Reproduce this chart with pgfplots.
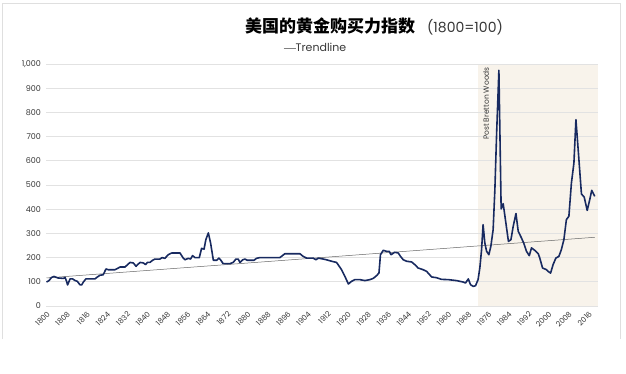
\documentclass[border=0pt]{standalone}
\usepackage{fontspec}
\setmainfont{Poppins}
\newfontfamily\cjk{Noto Sans CJK SC}
\usepackage{pgfplots}
\pgfplotsset{compat=1.18}
\definecolor{navy}{RGB}{24,42,96}
\definecolor{shade}{RGB}{248,243,235}
\definecolor{gridc}{RGB}{226,226,226}
\definecolor{txt}{RGB}{55,55,55}
\begin{document}
\begin{tikzpicture}
\path (0,0) rectangle (626pt,373pt);
\draw[gray!25, line width=0.6pt] (2pt,34pt) -- (2pt,370pt) -- (620pt,370pt) -- (620pt,34pt);
\node[anchor=base, inner sep=0pt] at (374pt,340pt) {{\cjk\bfseries\fontsize{17}{20}\selectfont 美国的黄金购买力指数}\hspace{12pt}{\fontsize{14}{16}\selectfont\color{txt}(1800=100)}};
\node[anchor=base, inner sep=0pt, text=txt] at (315pt,321pt) {\fontsize{11}{13}\selectfont{\color{gray}\rule[3pt]{12pt}{0.6pt}}Trendline};
\begin{axis}[
  at={(46.5pt,67pt)}, anchor=south west,
  scale only axis, width=551.5pt, height=242pt,
  xmin=1800, xmax=2019.8, ymin=0, ymax=1000,
  axis line style={draw=none}, tick style={draw=none},
  ymajorgrids, grid style={gridc, line width=0.8pt},
  ytick={0,100,...,1000},
  xtick={1800,1808,...,2016},
  /pgf/number format/assume math mode=true,
  y tick label style={font=\fontsize{8}{9}\selectfont, text=txt, /pgf/number format/1000 sep={,}, xshift=-2pt},
  x tick label style={font=\fontsize{7.5}{8}\selectfont, text=txt, rotate=45, anchor=north east, /pgf/number format/1000 sep={}},
  clip=false,
]
\addplot[fill=shade, draw=none] coordinates {(1972,0) (1972,1000) (2019.8,1000) (2019.8,0)} -- cycle;
\pgfplotsinvokeforeach{100,200,...,1000}{\addplot[gridc, line width=0.8pt] coordinates {(1972,#1) (2019.8,#1)};}
\addplot[gray!80!black, line width=0.5pt] coordinates {(1800,116) (2018.5,284)};
\addplot[navy, line width=1.6pt, line join=round] coordinates {
(1800,99) (1801,105) (1802,118) (1803,122) (1804.5,116) (1806.7,114) (1807.4,118) (1808,102) (1808.4,87)
(1809.4,112) (1810.4,112) (1811.4,105) (1812.3,102) (1813.3,88) (1814,87) (1814.7,99) (1815.7,112)
(1816.7,112) (1819.3,112) (1820.3,120) (1821.3,127) (1822.6,129) (1823.7,153) (1824.6,150) (1827.3,150)
(1828.6,157) (1829.3,161) (1831.3,161) (1832.3,171) (1833.3,180) (1834.6,178) (1835.7,164) (1836.3,171)
(1837.3,180) (1838.6,178) (1839.5,171) (1840.2,180) (1841.2,180) (1842.3,189) (1843.2,194) (1845.2,194)
(1846.1,200) (1847.2,197) (1848.5,212) (1849.9,219) (1853.2,219) (1854.5,198) (1855.2,191) (1856.5,197)
(1857.4,194) (1858.2,208) (1859.2,200) (1860.9,200) (1861.8,238) (1862.8,235) (1863.5,274) (1864.5,302)
(1865.4,260) (1866.5,189) (1867.8,189) (1868.7,198) (1869.5,189) (1870.4,175) (1873.1,175) (1874.4,180)
(1875.5,194) (1876.4,194) (1877.1,180) (1878.2,191) (1879.1,194) (1880,189) (1882.7,189) (1883.7,197)
(1885,200) (1893,200) (1895,216) (1901,216) (1902.3,205) (1903.7,198) (1906.3,198) (1907.4,191)
(1908.3,198) (1910.3,194) (1911.6,191) (1913.6,185) (1915.6,180) (1917.6,150) (1918.9,123) (1920.3,91)
(1921.6,102) (1922.9,109) (1924.9,109) (1926.9,105) (1928.9,109) (1930.2,114) (1931.5,125) (1932.5,136)
(1933.1,212) (1934.2,230) (1935.5,226) (1936.6,226) (1937.3,212) (1938.8,222) (1940.2,219) (1941.1,205)
(1942.2,191) (1943.5,185) (1945.5,182) (1946.8,171) (1948.1,157) (1950.1,150) (1951.5,143) (1953.5,120)
(1955.4,117) (1957.4,110) (1960.1,109) (1963.4,105) (1966.1,99) (1967,95) (1968.1,112) (1969,88)
(1970.1,81) (1971,84) (1972,109) (1972.7,157) (1973.4,233) (1974,336) (1974.7,260) (1975.4,226)
(1976.3,212) (1977.1,247) (1978,315) (1978.7,481) (1979.4,715) (1980.3,974) (1981.2,401) (1982,423)
(1982.9,357) (1984.1,267) (1985.1,274) (1986,329) (1987.1,382) (1988,309) (1989.3,281) (1990.2,260)
(1991.3,226) (1992.4,208) (1993.3,240) (1994.6,230) (1996,216) (1996.6,198) (1997.7,157) (1999.3,150)
(1999.9,143) (2000.9,136) (2001.9,171) (2003,198) (2004.2,205) (2005.2,233) (2006.2,274) (2007.2,357)
(2008.2,371) (2009.2,508) (2010.2,591) (2011,770) (2011.9,646) (2013.2,463) (2014.3,450) (2015.5,395)
(2016.5,439) (2017.3,478) (2018.5,453)
};
\node[rotate=90, anchor=east, inner sep=0pt, text=txt, font=\fontsize{7.5}{9}\selectfont] at (axis cs:1975.2,988) {Post Bretton Woods};
\end{axis}
\end{tikzpicture}
\end{document}
